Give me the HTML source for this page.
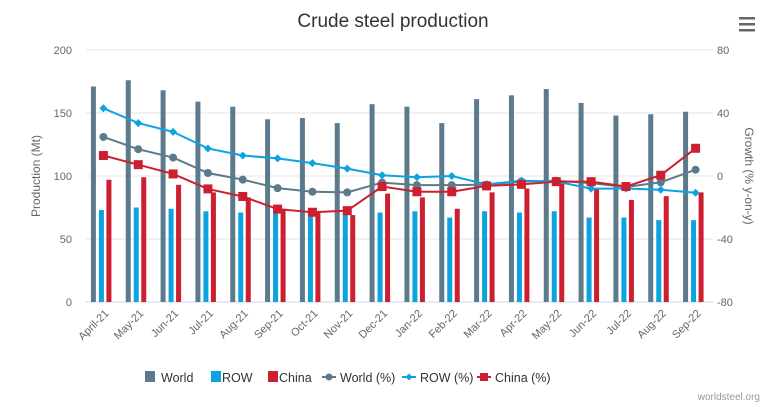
<!DOCTYPE html>
<html><head><meta charset="utf-8"><style>
body{margin:0;background:#fff;font-family:"Liberation Sans",sans-serif}
svg text{font-family:"Liberation Sans",sans-serif}
</style></head><body>
<svg id="c" width="780" height="411" xmlns="http://www.w3.org/2000/svg">
<text x="393" y="27" text-anchor="middle" font-size="19" fill="#333">Crude steel production</text>
<g><rect x="739" y="17" width="16" height="2.5" fill="#666"/><rect x="739" y="23" width="16" height="2.5" fill="#666"/><rect x="739" y="29" width="16" height="2.5" fill="#666"/></g>
<text transform="translate(40,176) rotate(-90)" text-anchor="middle" font-size="12" fill="#666">Production (Mt)</text>
<text transform="translate(745,176) rotate(90)" text-anchor="middle" font-size="12" fill="#666">Growth (% y-on-y)</text>
<g id="grid"></g><g id="bars"></g><g id="lines"></g><g id="axes"></g>
<g font-size="12.5" fill="#333">
<g><rect x="145" y="371" width="10" height="11" fill="#5b7a8c"/><text x="161" y="382" fill="#333">World</text></g>
<g><rect x="211" y="371" width="10" height="11" fill="#0ca3e0"/><text x="222" y="382" fill="#333">ROW</text></g>
<g><rect x="268" y="371" width="10" height="11" fill="#cc1f2f"/><text x="279" y="382" fill="#333">China</text></g>
<g><line x1="322" y1="377" x2="336" y2="377" stroke="#5b7a8c" stroke-width="2"/><circle cx="329" cy="377" r="3.5" fill="#5b7a8c"/><text x="340" y="382" fill="#333">World (%)</text></g>
<g><line x1="402" y1="377" x2="416" y2="377" stroke="#0ca3e0" stroke-width="2"/><path d="M409 373.5 L412.5 377 L409 380.5 L405.5 377Z" fill="#0ca3e0"/><text x="420" y="382" fill="#333">ROW (%)</text></g>
<g><line x1="477" y1="377" x2="491" y2="377" stroke="#cc1f2f" stroke-width="2"/><rect x="480" y="373" width="8" height="8" fill="#cc1f2f"/><text x="495" y="382" fill="#333">China (%)</text></g>
</g>
<text x="760" y="400" text-anchor="end" font-size="10" fill="#999">worldsteel.org</text>
</svg>
<script>
const categories=["April-21","May-21","Jun-21","Jul-21","Aug-21","Sep-21","Oct-21","Nov-21","Dec-21","Jan-22","Feb-22","Mar-22","Apr-22","May-22","Jun-22","Jul-22","Aug-22","Sep-22"];
const worldVals=[171,176,168,159,155,145,146,142,157,155,142,161,164,169,158,148,149,151];
const rowVals=[73,75,74,72,71,71,71,70,71,72,67,72,71,72,67,67,65,65];
const chinaVals=[97,99,93,87,83,74,72,69,86,83,74,87,90,94,90,81,84,87];
const worldPct=[24.8,17,11.7,1.9,-2.3,-7.7,-10,-10.4,-4.2,-5.8,-5.8,-5.5,-3.5,-3,-4.5,-7,-4,4];
const rowPct=[43,33.6,28,17.5,13,11.2,8.2,4.7,0.5,-0.8,0,-5.3,-3,-3.5,-8,-8,-8.7,-10.6];
const chinaPct=[13,7.2,1.3,-8.2,-13,-21,-23,-22,-6.7,-10,-10,-6.3,-5.3,-3.6,-3.6,-6.7,0.5,17.6];
const leftTicks=[0,50,100,150,200];
const rightTicks=[-80,-40,0,40,80];
const NS="http://www.w3.org/2000/svg";
const L=86,R=713,T=50,B=302,bw=(R-L)/categories.length;
const yL=v=>B-(v/200)*(B-T);
const yR=v=>B-((v+80)/160)*(B-T);
const xC=i=>L+bw*(i+0.5);
function mk(p,tag,at){const e=document.createElementNS(NS,tag);for(const k in at)e.setAttribute(k,at[k]);document.getElementById(p).appendChild(e);return e;}
leftTicks.forEach((t,i)=>{
 const g=mk('grid','line',{x1:L,x2:R,y1:yL(t),y2:yL(t),stroke:t===0?'#ccd6eb':'#e6e6e6','stroke-width':1});
 
 
 const a=mk('axes','text',{x:72,y:yL(t)+4,'text-anchor':'end','font-size':11,fill:'#666'});a.textContent=t;
 
 
});
rightTicks.forEach(t=>{
 const a=mk('axes','text',{x:717,y:yR(t)+4,'font-size':11,fill:'#666'});a.textContent=t;
 
 
});
categories.forEach((c,i)=>{
 const x=xC(i);
 [[worldVals,'#5b7a8c',-10,'bar-world'],[rowVals,'#0ca3e0',-2,'bar-row'],[chinaVals,'#cc1f2f',5.5,'bar-china']].forEach(([arr,col,off,nm])=>{
  const r=mk('bars','rect',{x:x+off-2.5,y:yL(arr[i]),width:5,height:B-yL(arr[i]),fill:col});
  
  
 });
 const t=mk('axes','text',{transform:`translate(${x+6},${B+12}) rotate(-45)`,'text-anchor':'end','font-size':11,fill:'#666'});t.textContent=c;
 
 
});
[[worldPct,'#5b7a8c','c','line-world-pct'],[rowPct,'#0ca3e0','d','line-row-pct'],[chinaPct,'#cc1f2f','s','line-china-pct']].forEach(([arr,col,m,nm])=>{
 const pl=mk('lines','polyline',{points:arr.map((v,i)=>xC(i)+','+yR(v)).join(' '),fill:'none',stroke:col,'stroke-width':2});
 
 
 arr.forEach((v,i)=>{
  const x=xC(i),y=yR(v);let e;
  if(m==='c')e=mk('lines','circle',{cx:x,cy:y,r:4,fill:col});
  else if(m==='d')e=mk('lines','path',{d:`M${x} ${y-4}L${x+4} ${y}L${x} ${y+4}L${x-4} ${y}Z`,fill:col});
  else e=mk('lines','rect',{x:x-4.5,y:y-4.5,width:9,height:9,fill:col});
  
  
 });
});
</script>
</body></html>
